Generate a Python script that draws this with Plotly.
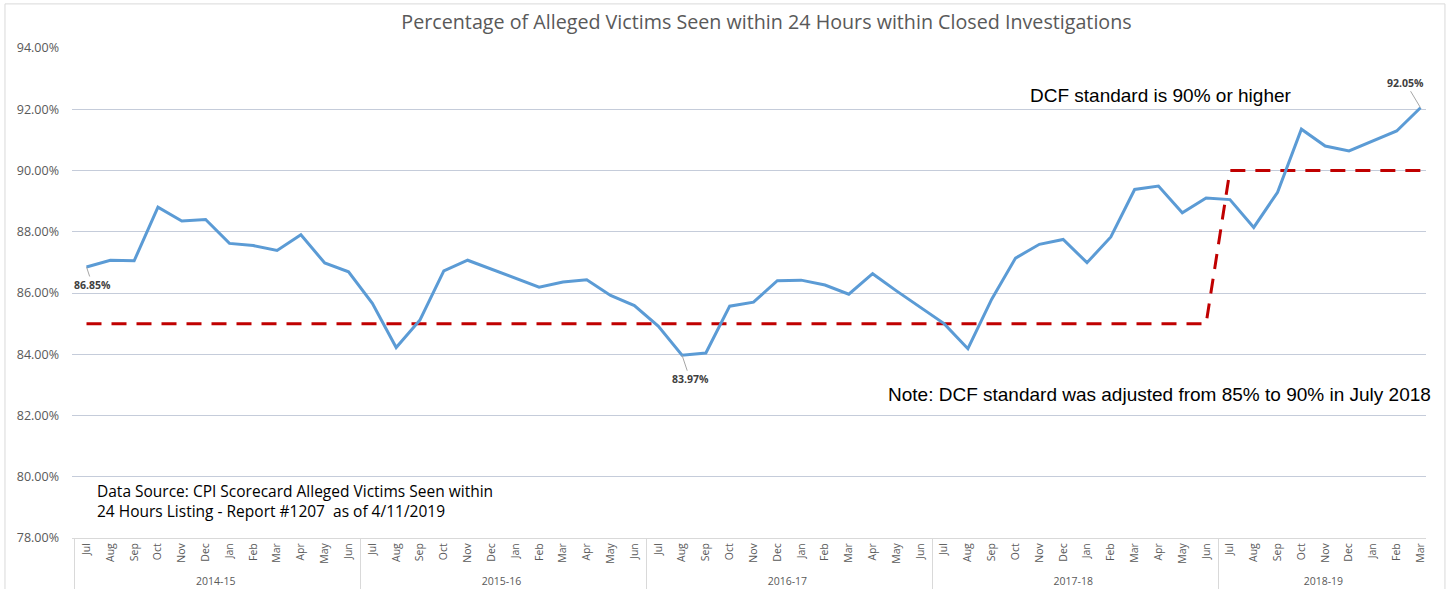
import plotly.graph_objects as go

# fiscal years and the months within each (Jul..Jun)
fiscal_years = ["2014-15", "2015-16", "2016-17", "2017-18", "2018-19"]
months = ["Jul", "Aug", "Sep", "Oct", "Nov", "Dec", "Jan", "Feb", "Mar", "Apr", "May", "Jun"]
months_per_year = [12, 12, 12, 12, 9]

# % of alleged victims seen within 24 hours, Jul 2014 .. Mar 2019
pct_seen = [
    86.85, 87.07, 87.05, 88.80, 88.35, 88.40, 87.62, 87.55, 87.39, 87.90, 86.98, 86.69,
    85.66, 84.22, 85.12, 86.72, 87.07, 86.77, 86.48, 86.19, 86.36, 86.43, 85.92, 85.59,
    84.92, 83.97, 84.04, 85.57, 85.70, 86.40, 86.42, 86.26, 85.96, 86.63, 86.07, 85.53,
    85.00, 84.18, 85.80, 87.14, 87.59, 87.75, 86.99, 87.83, 89.38, 89.49, 88.62, 89.10,
    89.05, 88.14, 89.29, 91.35, 90.80, 90.64, 90.96, 91.29, 92.05,
]

# DCF standard (85% until Jun 2018, 90% from Jul 2018)
dcf_standard = [
    85, 85, 85, 85, 85, 85, 85, 85, 85, 85, 85, 85,
    85, 85, 85, 85, 85, 85, 85, 85, 85, 85, 85, 85,
    85, 85, 85, 85, 85, 85, 85, 85, 85, 85, 85, 85,
    85, 85, 85, 85, 85, 85, 85, 85, 85, 85, 85, 85,
    90, 90, 90, 90, 90, 90, 90, 90, 90,
]

# points that carry a data label: (index, x offset, y offset)
labelled_points = [(0, 6, 18), (25, 8, 24), (56, -15, -25)]

y_ticks = [78, 80, 82, 84, 86, 88, 90, 92, 94]

x_years = []
x_months = []
for fy, n in zip(fiscal_years, months_per_year):
    x_years += [fy] * n
    x_months += months[:n]
x_multi = [x_years, x_months]

fig = go.Figure()

fig.add_trace(go.Scatter(
    x=x_multi, y=dcf_standard, mode="lines",
    line=dict(color="#C00000", width=3, dash="15px,10px"),
    name="DCF standard", hoverinfo="skip",
))

fig.add_trace(go.Scatter(
    x=x_multi, y=pct_seen, mode="lines",
    line=dict(color="#5B9BD5", width=3),
    name="% seen within 24 hours",
))

for idx, ax, ay in labelled_points:
    fig.add_annotation(
        x=idx, y=pct_seen[idx], xref="x", yref="y",
        text=f"<b>{pct_seen[idx]:.2f}%</b>",
        showarrow=True, arrowhead=0, arrowwidth=1, arrowcolor="#A6A6A6",
        ax=ax, ay=ay, standoff=0,
        font=dict(family="Open Sans", size=10.5, color="#404040"),
    )

fig.add_annotation(
    x=0.804, y=92.45, xref="paper", yref="y", xanchor="center",
    text="DCF standard is 90% or higher", showarrow=False,
    font=dict(family="Liberation Sans", size=19, color="#000000"),
)
fig.add_annotation(
    x=1.005, y=82.7, xref="paper", yref="y", xanchor="right",
    text="Note: DCF standard was adjusted from 85% to 90% in July 2018", showarrow=False,
    font=dict(family="Liberation Sans", size=19, color="#000000"),
)
fig.add_annotation(
    x=0.017, y=79.2, xref="paper", yref="y", xanchor="left", align="left",
    text="Data Source: CPI Scorecard Alleged Victims Seen within<br>24 Hours Listing - Report #1207  as of 4/11/2019",
    showarrow=False,
    font=dict(family="Open Sans", size=15.5, color="#000000"),
)

# chart border like the Excel chart area
fig.add_shape(type="rect", xref="paper", yref="paper", x0=-0.0495, x1=1.014, y0=-0.2, y1=1.09,
              line=dict(color="#D9D9D9", width=1), fillcolor="rgba(0,0,0,0)", layer="below")

fig.update_layout(
    width=1449,
    height=589,
    title=dict(
        text="Percentage of Alleged Victims Seen within 24 Hours within Closed Investigations",
        x=0.529, xanchor="center", y=0.962, yanchor="middle",
        font=dict(family="Open Sans", size=19.7, color="#595959"),
    ),
    showlegend=False,
    plot_bgcolor="white",
    paper_bgcolor="white",
    margin=dict(l=72, r=23, t=48, b=51, autoexpand=False),
    xaxis=dict(
        type="multicategory",
        tickangle=-90,
        tickfont=dict(family="Open Sans", size=10.5, color="#595959"),
        showline=True, linecolor="#D9D9D9", linewidth=1,
        showgrid=False, ticks="",
        showdividers=True, dividercolor="#D9D9D9", dividerwidth=1,
        automargin=False,
    ),
    yaxis=dict(
        range=[78, 94],
        tickvals=y_ticks,
        ticktext=[f"{v:.2f}%" for v in y_ticks],
        tickfont=dict(family="Open Sans", size=12.5, color="#595959"),
        showgrid=True, gridcolor="#C5CCDA", gridwidth=1,
        zeroline=False, showline=False, ticks="",
        ticklabelstandoff=12,
        automargin=False,
    ),
)

fig.write_html(
    "out.html",
    config={"displayModeBar": False},
    post_script="document.body.style.margin='0';document.body.style.overflow='hidden';",
)
